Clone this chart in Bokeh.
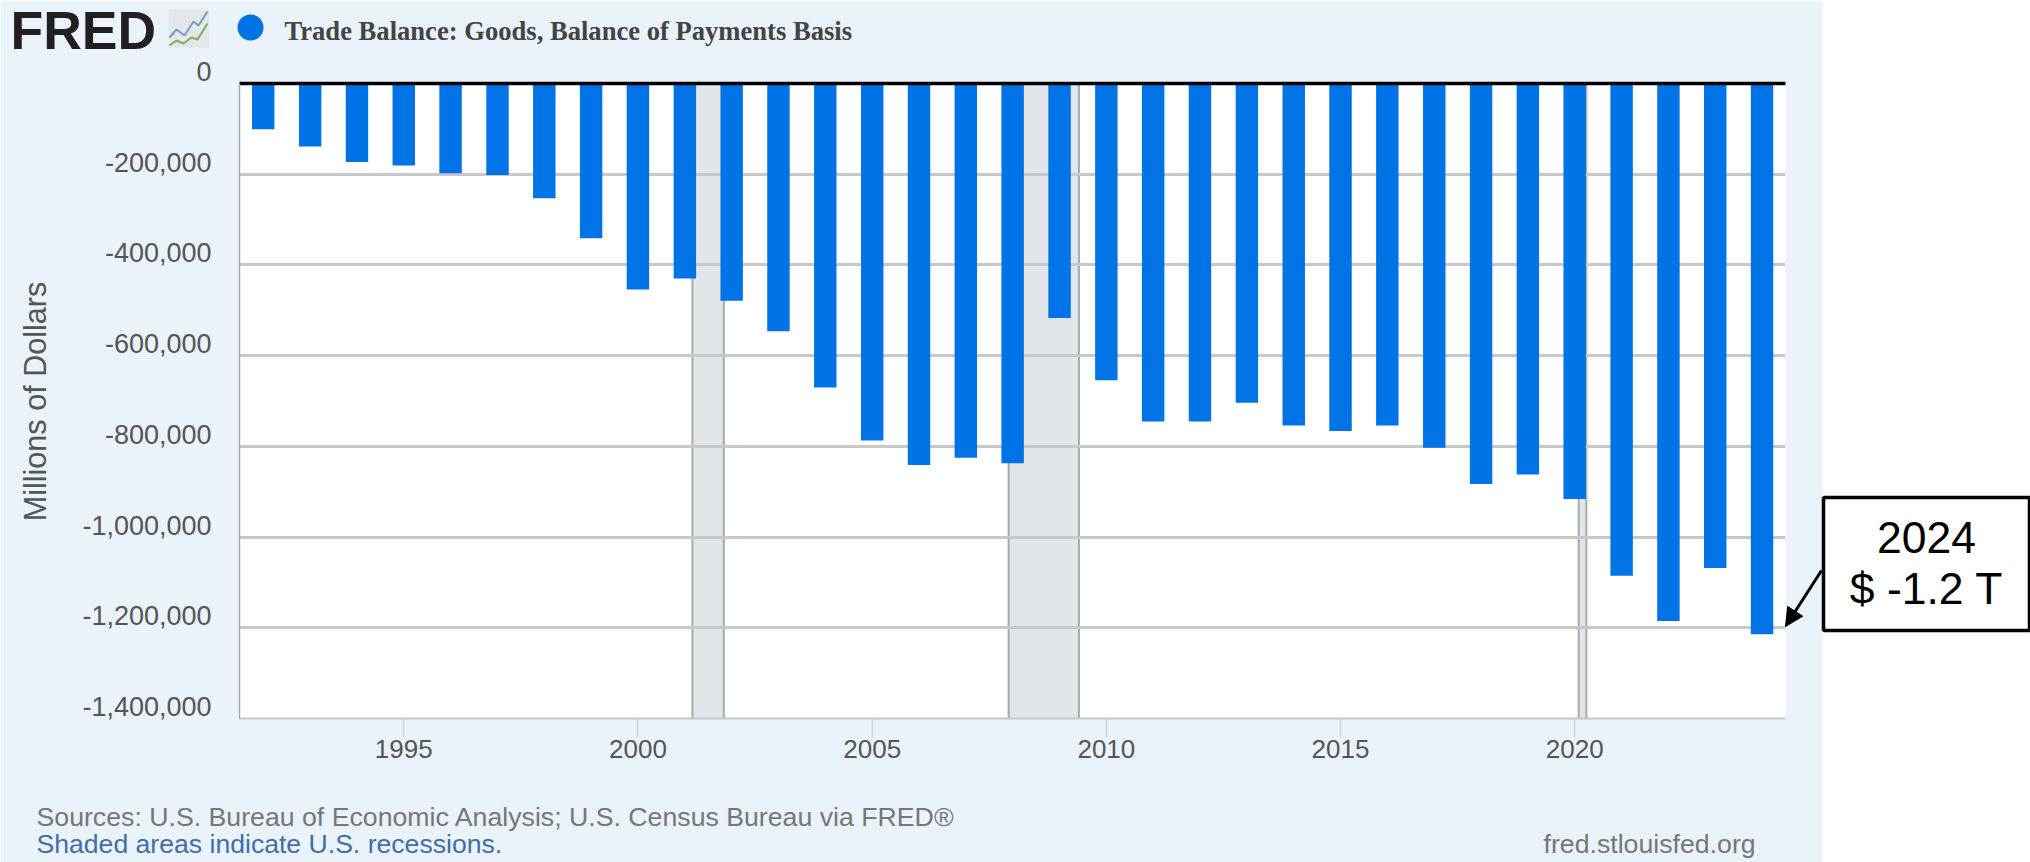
import math
import pandas as pd
from bokeh.plotting import figure
from bokeh.embed import file_html
from bokeh.resources import INLINE
from bokeh.models import (Range1d, FixedTicker, DatetimeTickFormatter, NumeralTickFormatter, Label, LinearAxis,
                          Arrow, NormalHead)

years = list(range(1992, 2025))
trade_balance = [-101000, -139000, -173000, -181000, -198000, -202000, -253000, -341000,
                 -454000, -430000, -479000, -546000, -670000, -787000, -841000, -825000,
                 -837000, -517000, -654000, -745000, -745000, -704000, -754000, -766000,
                 -754000, -803000, -883000, -862000, -916000, -1085000, -1185000, -1068000, -1214000]
recession_start = ["2001-03-01", "2007-12-01", "2020-02-01"]
recession_end = ["2001-11-01", "2009-06-01", "2020-04-01"]
x_tick_years = [1995, 2000, 2005, 2010, 2015, 2020]
y_ticks = [0, -200000, -400000, -600000, -800000, -1000000, -1200000, -1400000]
series_name = "Trade Balance: Goods, Balance of Payments Basis"
y_title = "Millions of Dollars"
source_line = "Sources: U.S. Bureau of Economic Analysis; U.S. Census Bureau via FRED\u00ae"
shaded_line = "Shaded areas indicate U.S. recessions."
site_line = "fred.stlouisfed.org"
callout = ["2024", "$ -1.2 T"]
logo_blue_x = [169, 176, 184, 193, 198, 207]
logo_blue_y = [37, 29, 35, 21, 25, 11]
logo_green_x = [169, 176, 183, 191, 197, 207]
logo_green_y = [45, 40, 43, 37, 39, 23]

W, H = 2030, 862
L, T, R, B = 239, 83, 1785, 718
PANEL = "#eaf2fa"
BAR = "#0073e6"
SANS = "Liberation Sans"
TICK_TEXT = "#555555"


def ms(ts):
    return pd.Timestamp(ts).value / 1e6


dates = pd.to_datetime([f"{y}-01-01" for y in years])
day = 86400000.0
x_start, x_end = ms("1992-01-01") - 185 * day, ms("2024-01-01") + 183 * day

# ---- the chart itself
p = figure(width=W, height=H, output_backend="svg", toolbar_location=None,
           x_axis_type="datetime", x_range=Range1d(x_start, x_end), y_range=Range1d(-1400000, 0),
           min_border_left=L, min_border_right=W - R, min_border_top=T, min_border_bottom=H - B,
           background_fill_color="white", border_fill_color=PANEL, outline_line_color=None)

rs = pd.to_datetime(recession_start)
re_ = pd.to_datetime(recession_end)
p.quad(left=rs, right=re_, top=0, bottom=-1400000, fill_color="#e1e6eb", line_color=None, level="image")
for edge in (rs, re_):
    p.segment(x0=edge, x1=edge, y0=[0] * 3, y1=[-1400000] * 3, line_color="#aaaaaa", line_width=2, level="image")

p.vbar(x=dates, top=trade_balance, bottom=0, width=175 * day, fill_color=BAR, line_color=None)

p.xgrid.visible = False
p.ygrid.ticker = FixedTicker(ticks=y_ticks)
p.ygrid.grid_line_color = "#c8c8c8"
p.ygrid.grid_line_width = 3
p.xaxis.ticker = FixedTicker(ticks=[ms(f"{y}-01-01") for y in x_tick_years])
p.xaxis.formatter = DatetimeTickFormatter(years="%Y", months="%Y", days="%Y", hours="%Y")
p.xaxis.axis_line_color = "#c4c8cc"
p.xaxis.axis_line_width = 2
p.xaxis.major_tick_line_color = "#c8d4e6"
p.xaxis.major_tick_line_width = 1.5
p.xaxis.major_tick_in = 0
p.xaxis.major_tick_out = 19
p.xaxis.minor_tick_line_color = None
p.xaxis.major_label_text_font = SANS
p.xaxis.major_label_text_font_size = "26px"
p.xaxis.major_label_text_color = TICK_TEXT
p.xaxis.major_label_standoff = 2

p.yaxis.ticker = FixedTicker(ticks=[])
p.yaxis.axis_line_color = "#aaaaaa"
p.yaxis.axis_line_width = 1.5
p.yaxis.major_tick_line_color = None
p.yaxis.minor_tick_line_color = None

# the black zero line, as an axis so that its full width shows above the frame
p.add_layout(LinearAxis(ticker=FixedTicker(ticks=[]), axis_line_color="black", axis_line_width=3.5,
                        major_tick_line_color=None, minor_tick_line_color=None), "above")

# ---- y tick labels: the same axis on a transparent copy raised by 12px, as they sit above the grid lines
c = figure(width=W, height=H, output_backend="svg", toolbar_location=None,
           x_range=Range1d(x_start, x_end), y_range=Range1d(-1400000, 0), x_axis_location=None,
           min_border_left=L, min_border_right=W - R, min_border_top=T, min_border_bottom=H - B,
           background_fill_color=None, border_fill_color=None, outline_line_color=None,
           styles={"position": "absolute", "left": "0px", "top": "-12px"})
c.grid.visible = False
c.yaxis.ticker = FixedTicker(ticks=y_ticks)
c.yaxis.formatter = NumeralTickFormatter(format="0,0")
c.yaxis.axis_line_color = None
c.yaxis.major_tick_line_color = None
c.yaxis.minor_tick_line_color = None
c.yaxis.major_label_standoff = 22
c.yaxis.major_label_text_font = SANS
c.yaxis.major_label_text_font_size = "27px"
c.yaxis.major_label_text_color = TICK_TEXT

# ---- page furniture: transparent layer in page pixels (its frame fills the page)
o = figure(width=W, height=H, output_backend="svg", toolbar_location=None,
           x_range=Range1d(0, W), y_range=Range1d(H, 0), x_axis_location=None, y_axis_location=None,
           min_border=0, background_fill_color=None, border_fill_color=None, outline_line_color=None,
           styles={"position": "absolute", "left": "0px", "top": "0px"})
o.grid.visible = False


def txt(x, y, s, size, color, align="left", font=SANS, style="normal", angle=0.0):
    o.add_layout(Label(x=x, y=y, text=s, text_font=font, text_font_size=f"{size}px", text_color=color,
                       text_align=align, text_baseline="middle", text_font_style=style, angle=angle))


o.quad(left=[1822], right=[W], top=[0], bottom=[H], fill_color="white", line_color=None)

# header
txt(10, 30, "FRED", 53.5, "#231f20", style="bold")
o.quad(left=[168], right=[209], top=[9], bottom=[47], fill_color="#e4e6e8", line_color=None)
o.line(logo_blue_x, logo_blue_y, line_color="#6f9fc8", line_width=2)
o.line(logo_green_x, logo_green_y, line_color="#7fae5c", line_width=2)
o.scatter([250], [27], size=26, marker="circle", fill_color=BAR, line_color=None)
txt(284, 30, series_name, 26.6, "#444444", font="Liberation Serif", style="bold")

# y title
txt(34, 401, y_title, 30.6, TICK_TEXT, align="center", angle=math.pi / 2)

# footer
txt(36, 816, source_line, 26.7, "#777777")
txt(36, 843, shaded_line, 26.6, "#3f6ea8")
txt(1543, 843, site_line, 26.7, "#777777")

# callout
o.quad(left=[1823], right=[2029], top=[497], bottom=[630], fill_color="white", line_color="black", line_width=3.5)
txt(1926, 537, callout[0], 44.5, "black", align="center")
txt(1926, 588, callout[1], 44.5, "black", align="center")
o.add_layout(Arrow(x_start=1821, y_start=570, x_end=1785, y_end=626, line_color="black", line_width=3,
                   end=NormalHead(size=18, fill_color="black", line_color="black")))

open("out.html", "w").write(file_html([p, c, o], INLINE))
